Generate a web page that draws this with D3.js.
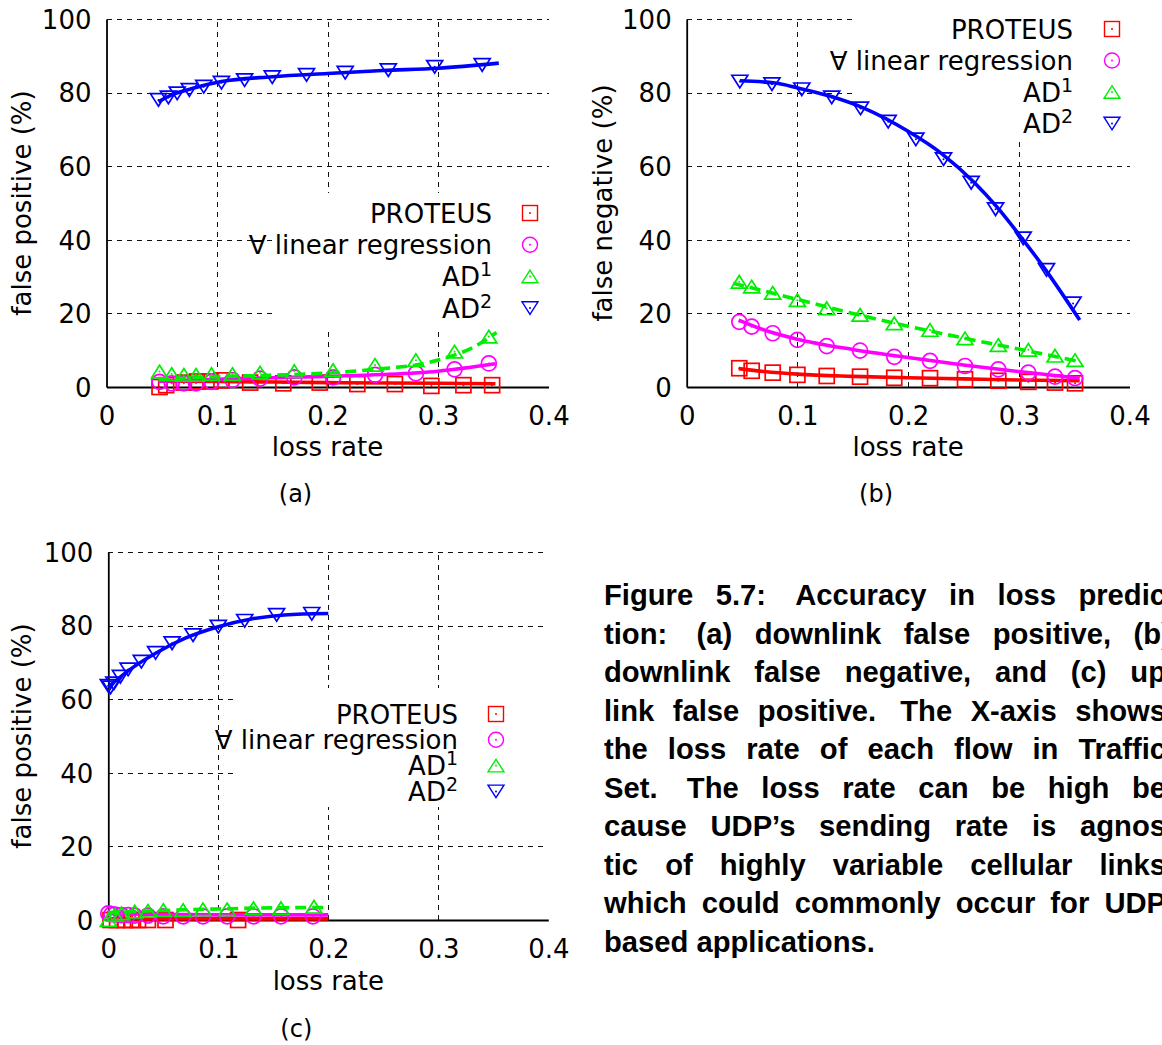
<!DOCTYPE html>
<html>
<head>
<meta charset="utf-8">
<script src="https://cdn.jsdelivr.net/npm/d3@7"></script>
<style>
  body { margin: 0; background: #fff; }
  svg { display: block; }
</style>
</head>
<body>
<svg id="fig" width="1162" height="1045"></svg>
<script>
// ---- axis ticks -------------------------------------------------------
const X_TICKS = [0, 0.1, 0.2, 0.3, 0.4];
const X_TICK_LABELS = ["0", "0.1", "0.2", "0.3", "0.4"];
const Y_TICKS = [0, 20, 40, 60, 80, 100];
const X_GRID = [0.1, 0.2, 0.3];
const Y_GRID = [20, 40, 60, 80, 100];

// ---- legend ----------------------------------------------------------
const LEGEND_NAMES = ["PROTEUS", "\u2200 linear regression", "AD", "AD"];
const LEGEND_SUPS = ["", "", "1", "2"];

// ---- (a) downlink false positive ---------------------------------------
const aProteusX = [0.048, 0.054, 0.070, 0.082, 0.094, 0.104, 0.130, 0.160, 0.193, 0.227, 0.261, 0.294, 0.323, 0.349];
const aProteusY = [0, 0.5, 1.2, 1.5, 1.5, 1.8, 1.2, 1.0, 1.2, 0.8, 0.8, 0.3, 0.5, 0.5];
const aProteusFit = [[0.047, 1.6], [0.1, 1.5], [0.2, 1.2], [0.3, 1.0], [0.352, 0.9]];
const aLinRegX = [0.048, 0.059, 0.070, 0.081, 0.095, 0.114, 0.139, 0.170, 0.205, 0.243, 0.280, 0.315, 0.346];
const aLinRegY = [1.4, 1.0, 1.0, 1.0, 1.4, 1.9, 2.3, 2.6, 2.6, 3.3, 3.7, 4.8, 6.4];
const aLinRegFit = [[0.047, 1.6], [0.1, 2.1], [0.15, 2.5], [0.2, 2.9], [0.25, 3.4], [0.3, 4.3], [0.352, 6.3]];
const aAd1X = [0.048, 0.059, 0.070, 0.081, 0.095, 0.114, 0.139, 0.170, 0.205, 0.243, 0.280, 0.315, 0.346];
const aAd1Y = [4.2, 3.5, 3.3, 3.3, 3.5, 3.5, 3.9, 4.3, 4.6, 6.0, 7.3, 9.6, 13.7];
const aAd1Fit = [[0.047, 2.0], [0.1, 2.8], [0.15, 3.2], [0.2, 3.8], [0.25, 5.0], [0.28, 6.0], [0.31, 8.2], [0.33, 10.5], [0.353, 14.8]];
const aAd2X = [0.047, 0.056, 0.064, 0.075, 0.088, 0.104, 0.125, 0.150, 0.181, 0.216, 0.255, 0.297, 0.340];
const aAd2Y = [78.0, 78.7, 79.8, 80.7, 81.6, 82.7, 83.4, 84.2, 84.8, 85.4, 86.1, 87.0, 87.5];
const aAd2Fit = [[0.047, 77.5], [0.06, 79.5], [0.08, 81.3], [0.104, 83.0], [0.15, 84.3], [0.2, 85.2], [0.25, 86.0], [0.3, 86.6], [0.355, 88.0]];

// ---- (b) downlink false negative ---------------------------------------
const bX = [0.0475, 0.0587, 0.0777, 0.100, 0.1265, 0.1566, 0.1875, 0.2198, 0.2514, 0.2815, 0.3086, 0.3327, 0.3508];
const bProteusY = [5.1, 4.4, 3.9, 3.3, 3.0, 2.8, 2.5, 2.4, 2.1, 1.7, 1.4, 1.2, 1.0];
const bProteusFit = [[0.047, 5.0], [0.07, 4.2], [0.1, 3.5], [0.15, 2.9], [0.2, 2.5], [0.25, 2.2], [0.3, 1.9], [0.355, 1.7]];
const bLinRegY = [17.7, 16.4, 14.6, 12.8, 11.1, 9.9, 8.2, 7.1, 5.7, 4.8, 3.9, 2.8, 2.4];
const bLinRegFit = [[0.047, 18.2], [0.07, 15.5], [0.1, 13.0], [0.15, 10.2], [0.2, 8.0], [0.25, 6.0], [0.3, 4.2], [0.355, 2.4]];
const bAd1Y = [28.6, 27.3, 25.6, 23.6, 21.4, 19.6, 17.3, 15.5, 13.2, 11.4, 10.1, 8.5, 7.3];
const bAd1Fit = [[0.042, 28.2], [0.1, 23.8], [0.15, 20.0], [0.2, 16.5], [0.25, 13.3], [0.3, 10.3], [0.355, 6.9]];
const bAd2X = [0.048, 0.077, 0.104, 0.131, 0.157, 0.182, 0.207, 0.232, 0.257, 0.279, 0.304, 0.325, 0.349];
const bAd2Y = [83.0, 82.3, 80.9, 78.7, 75.7, 72.1, 67.3, 61.9, 55.5, 48.3, 40.4, 31.8, 22.7];
const bAd2Fit = [[0.048, 83.2], [0.08, 82.6], [0.1, 81.3], [0.13, 79.0], [0.16, 75.8], [0.2, 69.5], [0.23, 63.5], [0.26, 55.5], [0.28, 49.0], [0.3, 41.5], [0.325, 31.5], [0.355, 18.2]];

// ---- (c) uplink false positive -----------------------------------------
const cProteusX = [0.002, 0.008, 0.015, 0.021, 0.027, 0.036, 0.052, 0.118];
const cProteusY = [0, 0, 0, 0, 0, 0, 0, 0];
const cProteusFit = [[0, 0.3], [0.1, 0.3], [0.2, 0.3]];
const cLinRegX = [0, 0.003, 0.006, 0.012, 0.018, 0.024, 0.036, 0.050, 0.068, 0.086, 0.108, 0.132, 0.157, 0.186];
const cLinRegY = [1.8, 1.6, 1.5, 1.3, 1.3, 1.2, 1.2, 1.0, 1.0, 1.0, 1.0, 1.0, 1.0, 1.0];
const cLinRegFit = [[0, 1.7], [0.05, 1.5], [0.1, 1.4], [0.2, 1.4]];
const cAd1X = [0, 0.006, 0.012, 0.024, 0.036, 0.050, 0.068, 0.086, 0.108, 0.132, 0.157, 0.187];
const cAd1Y = [0, 1.4, 1.8, 2.3, 2.5, 2.7, 2.7, 2.9, 2.9, 3.2, 3.2, 3.6];
const cAd1Fit = [[0, 2.0], [0.05, 2.6], [0.1, 3.0], [0.15, 3.3], [0.2, 3.4]];
const cAd2X = [0.0, 0.002, 0.005, 0.011, 0.018, 0.030, 0.043, 0.058, 0.077, 0.100, 0.124, 0.153, 0.185];
const cAd2Y = [63.6, 63.2, 64.3, 66.1, 68.1, 70.2, 72.6, 75.2, 77.4, 79.7, 81.3, 82.9, 83.2];
const cAd2Fit = [[0, 63.3], [0.018, 67.7], [0.043, 72.5], [0.07, 76.6], [0.1, 79.7], [0.13, 81.8], [0.16, 82.9], [0.2, 83.3]];

// ---- caption -----------------------------------------------------------
const CAPTION_LINES = [
  "Figure 5.7:  Accuracy in loss predic-",
  "tion: (a) downlink false positive, (b)",
  "downlink false negative, and (c) up-",
  "link false positive. The X-axis shows",
  "the loss rate of each flow in Traffic",
  "Set. The loss rate can be high be-",
  "cause UDP\u2019s sending rate is agnos-",
  "tic of highly variable cellular links,",
  "which could commonly occur for UDP-",
  "based applications."
];

// ---- styling -----------------------------------------------------------
const FONT = "'DejaVu Sans', Verdana, sans-serif";
const COLORS = ["#ff0000", "#ff00ff", "#00ee00", "#0000ff"];
const SYMBOLS = ["square", "circle", "triangle", "invtriangle"];

const svg = d3.select("#fig");

function zip(xs, ys) { return xs.map((x, i) => [x, ys[i]]); }

const panels = [
  {
    xr: [106.5, 548.5], yr: [387, 19],
    yTitle: "false positive (%)", yTitleX: 22,
    label: "(a)", labelY: 502, xTitleY: 456,
    keyBox: [273, 193, 550, 328],
    legend: { right: 492, mark: 530, y0: 213, dy: 31.7 },
    series: [
      { pts: zip(aProteusX, aProteusY), fit: aProteusFit },
      { pts: zip(aLinRegX, aLinRegY), fit: aLinRegFit },
      { pts: zip(aAd1X, aAd1Y), fit: aAd1Fit },
      { pts: zip(aAd2X, aAd2Y), fit: aAd2Fit }
    ]
  },
  {
    xr: [686.7, 1129.5], yr: [387, 19],
    yTitle: "false negative (%)", yTitleX: 603,
    label: "(b)", labelY: 502, xTitleY: 456,
    keyBox: [853, 4, 1135, 140],
    legend: { right: 1073, mark: 1112, y0: 29, dy: 31.5 },
    series: [
      { pts: zip(bX, bProteusY), fit: bProteusFit },
      { pts: zip(bX, bLinRegY), fit: bLinRegFit },
      { pts: zip(bX, bAd1Y), fit: bAd1Fit },
      { pts: zip(bAd2X, bAd2Y), fit: bAd2Fit }
    ]
  },
  {
    xr: [108.3, 548.3], yr: [920, 552],
    yTitle: "false positive (%)", yTitleX: 22,
    label: "(c)", labelY: 1037, xTitleY: 990,
    keyBox: [233, 688, 552, 807],
    legend: { right: 458, mark: 496, y0: 714, dy: 25.8 },
    series: [
      { pts: zip(cProteusX, cProteusY), fit: cProteusFit },
      { pts: zip(cLinRegX, cLinRegY), fit: cLinRegFit },
      { pts: zip(cAd1X, cAd1Y), fit: cAd1Fit },
      { pts: zip(cAd2X, cAd2Y), fit: cAd2Fit }
    ]
  }
];

function drawSymbol(g, type, cx, cy, color, size, sw, dot) {
  const h = size / 2;
  let el;
  if (type === "square") {
    el = g.append("rect").attr("x", cx - h).attr("y", cy - h).attr("width", size).attr("height", size);
  } else if (type === "circle") {
    el = g.append("circle").attr("cx", cx).attr("cy", cy).attr("r", h);
  } else if (type === "triangle") {
    const th = size * 0.42;
    el = g.append("polygon").attr("points", `${cx},${cy - th} ${cx + h + 0.5},${cy + th} ${cx - h - 0.5},${cy + th}`);
  } else {
    const th = size * 0.42;
    el = g.append("polygon").attr("points", `${cx},${cy + th} ${cx + h + 0.5},${cy - th} ${cx - h - 0.5},${cy - th}`);
  }
  el.attr("fill", "none").attr("stroke", color).attr("stroke-width", sw);
  if (dot) g.append("circle").attr("cx", cx).attr("cy", cy).attr("r", 1).attr("fill", color);
}

panels.forEach(p => {
  const x = d3.scaleLinear().domain([0, 0.4]).range(p.xr);
  const y = d3.scaleLinear().domain([0, 100]).range(p.yr);
  const g = svg.append("g");

  // grid
  const grid = g.append("g").attr("stroke", "#111").attr("stroke-width", 1)
    .attr("stroke-dasharray", "5,5").attr("shape-rendering", "crispEdges");
  Y_GRID.forEach(v => grid.append("line").attr("x1", x(0)).attr("x2", x(0.4))
    .attr("y1", Math.round(y(v)) + 0.5).attr("y2", Math.round(y(v)) + 0.5));
  X_GRID.forEach(v => grid.append("line").attr("y1", y(0)).attr("y2", y(100))
    .attr("x1", Math.round(x(v)) + 0.5).attr("x2", Math.round(x(v)) + 0.5));

  // opaque key area
  const kb = p.keyBox;
  g.append("rect").attr("x", kb[0]).attr("y", kb[1]).attr("width", kb[2] - kb[0])
    .attr("height", kb[3] - kb[1]).attr("fill", "#fff");

  // axes (left and bottom border only)
  const yAxis = d3.axisLeft(y).tickValues(Y_TICKS).tickSize(0).tickPadding(15).tickFormat(d3.format("d"));
  const xAxis = d3.axisBottom(x).tickValues(X_TICKS).tickSize(0).tickPadding(20)
    .tickFormat((d, i) => X_TICK_LABELS[i]);
  const ya = g.append("g").attr("transform", `translate(${x(0)},0)`).call(yAxis);
  const xa = g.append("g").attr("transform", `translate(0,${y(0)})`).call(xAxis);
  [ya, xa].forEach(a => {
    a.select(".domain").attr("stroke", "#000").attr("stroke-width", 1.8);
    a.selectAll("text").attr("fill", "#000").style("font-family", FONT).style("font-size", "26px");
  });
  ya.selectAll("text").attr("dy", "0.36em");
  xa.selectAll("text").attr("dy", "0.71em");

  // titles
  g.append("text").attr("x", (p.xr[0] + p.xr[1]) / 2).attr("y", p.xTitleY)
    .attr("text-anchor", "middle").style("font-family", FONT).style("font-size", "26px").text("loss rate");
  g.append("text").attr("transform", `translate(${p.yTitleX},${(p.yr[0] + p.yr[1]) / 2}) rotate(-90)`)
    .attr("dy", "0.36em").attr("text-anchor", "middle").style("font-family", FONT).style("font-size", "26px")
    .text(p.yTitle);
  g.append("text").attr("x", (p.xr[0] + p.xr[1]) / 2 - 32).attr("y", p.labelY)
    .attr("text-anchor", "middle").style("font-family", FONT).style("font-size", "24px").text(p.label);

  // series: fitted curve + points
  const line = d3.line().x(d => x(d[0])).y(d => y(d[1])).curve(d3.curveMonotoneX);
  p.series.forEach((s, i) => {
    const sg = g.append("g");
    s.pts.forEach(d => drawSymbol(sg, SYMBOLS[i], x(d[0]), y(d[1]), COLORS[i], 15, 1.7, true));
    sg.append("path").datum(s.fit).attr("d", line).attr("fill", "none")
      .attr("stroke", COLORS[i]).attr("stroke-width", 3.6)
      .attr("stroke-dasharray", i === 2 ? "11,6" : null);
  });

  // legend
  LEGEND_NAMES.forEach((name, i) => {
    const cy = p.legend.y0 + i * p.legend.dy;
    const t = g.append("text").attr("x", p.legend.right).attr("y", cy + 9.5)
      .attr("text-anchor", "end").style("font-family", FONT).style("font-size", "26px");
    t.append("tspan").text(name);
    if (LEGEND_SUPS[i]) t.append("tspan").attr("dy", -10).style("font-size", "19px").text(LEGEND_SUPS[i]);
    drawSymbol(g, SYMBOLS[i], p.legend.mark, cy, COLORS[i], 15, 1.4, true);
  });
});

// ---- caption, justified (trailing hyphens/commas hang past the margin) --
const CAP_X = 604, CAP_R = 1166, CAP_Y0 = 605, CAP_DY = 38.5, CAP_SIZE = 29.2;
const cap = svg.append("g").style("font-family", "'Liberation Sans', Arial, Helvetica, sans-serif")
  .style("font-weight", "bold").style("font-size", CAP_SIZE + "px").attr("fill", "#000");
CAPTION_LINES.forEach((ln, li) => {
  const words = ln.split(/\s+/);
  const yb = CAP_Y0 + li * CAP_DY;
  const nodes = words.map(w => cap.append("text").attr("y", yb).text(w));
  const widths = nodes.map(n => n.node().getComputedTextLength());
  const lastWord = words[words.length - 1];
  const tail = lastWord.match(/[-,)]$/);
  let hang = 0;
  if (tail) {
    const probe = cap.append("text").text(tail[0]);
    hang = probe.node().getComputedTextLength() * (tail[0] === ")" ? 0.5 : 1);
    probe.remove();
  }
  const total = d3.sum(widths) - hang;
  const last = li === CAPTION_LINES.length - 1;
  const weights = words.slice(0, -1).map(w => /[.:]$/.test(w) ? 1.3 : 1);
  const wsum = d3.sum(weights);
  const unit = last ? CAP_SIZE * 0.278 : (CAP_R - CAP_X - total) / wsum;
  let cx = CAP_X;
  nodes.forEach((n, i) => {
    n.attr("x", cx);
    cx += widths[i] + (i < weights.length ? (last ? unit : unit * weights[i]) : 0);
  });
});
</script>
</body>
</html>
